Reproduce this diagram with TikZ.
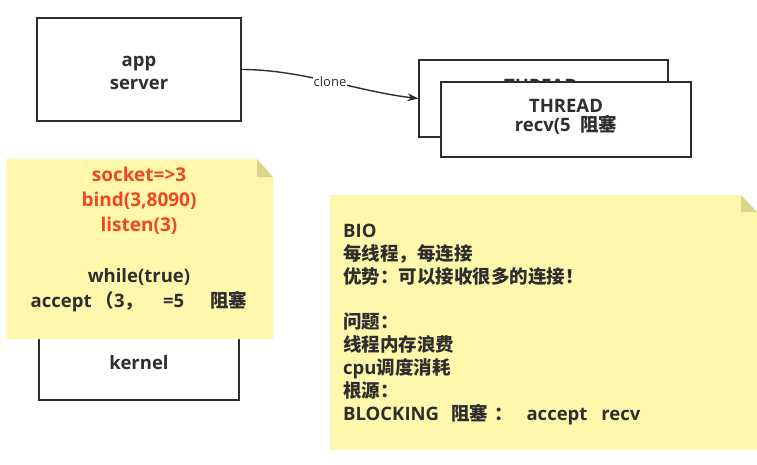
\documentclass[tikz,border=0pt]{standalone}
\usepackage{fontspec}
\setmainfont{Open Sans}
\newfontfamily\cjk{Noto Sans CJK SC}
\usetikzlibrary{arrows.meta}
\definecolor{notefill}{HTML}{FFF8AC}
\definecolor{notefold}{HTML}{DCD48A}
\definecolor{ink}{HTML}{2E2E2E}
\definecolor{redtxt}{HTML}{F2461E}
\newcommand{\zh}[1]{{\cjk\fontsize{18.5}{23}\selectfont #1}}
\tikzset{
  box/.style={draw=ink, line width=1.3pt, fill=white, inner sep=0pt},
  big/.style={font=\bfseries\fontsize{18.5}{23}\selectfont, text=ink, align=center, inner sep=0pt},
  notetxt/.style={font=\bfseries\fontsize{18.5}{23}\selectfont, text=ink, align=left, inner sep=0pt, anchor=west},
  redlines/.style={font=\bfseries\fontsize{19}{25}\selectfont, text=redtxt, align=center, inner sep=0pt},
  small/.style={font=\fontsize{13}{14}\selectfont, text=ink, fill=white, inner sep=1pt},
  conn/.style={draw=ink, line width=1.4pt, -{Stealth[length=11pt,width=8pt]}}
}
\begin{document}
\begin{tikzpicture}[x=1pt,y=-1pt]
\useasboundingbox (0,0) rectangle (757,464);
% app server
\node[box, minimum width=204pt, minimum height=103pt] (app) at (139,69.5) {};
\node[big] (apptxt) at (139,73) {app\\server};
% threads
\node[box, minimum width=249pt, minimum height=77pt] (back) at (543.5,98.5) {};
\node[big, font=\bfseries\fontsize{18.5}{19}\selectfont] (backtxt) at (541,97) {THREAD\\recv(5\ \ \zh{阻塞}};
\node[box, minimum width=250pt, minimum height=75pt] (front) at (566,119.5) {};
\node[big, font=\bfseries\fontsize{18.5}{19}\selectfont] (fronttxt) at (566,117) {THREAD\\recv(5\ \ \zh{阻塞}};
% clone connector
\draw[conn] (app.east) .. controls +(60,0) and +(-60,-7) .. node[small, pos=0.5] (clonelbl) {clone} (back.west);
% kernel
\node[box, minimum width=200pt, minimum height=74pt] (kernel) at (139,363) {};
\node[big] (kerneltxt) at (139,363) {kernel};
% note 1
\fill[notefill] (6,159) -- (257,159) -- (273,177) -- (273,339) -- (6,339) -- cycle;
\fill[notefold] (257,159) -- (257,177) -- (273,177) -- cycle;
\node[redlines] (n1red) at (139,201) {socket=>3\\bind(3,8090)\\listen(3)};
\node[big, font=\bfseries\fontsize{18.5}{25}\selectfont] (n1blk) at (139,290) {while(true)\\accept\hspace{4pt}\zh{（}3\zh{，}\hspace{20pt}=5\hspace{26pt}\zh{阻塞}};
% note 2
\fill[notefill] (330,195) -- (741,195) -- (757,212) -- (757,450) -- (330,450) -- cycle;
\fill[notefold] (741,195) -- (741,212) -- (757,212) -- cycle;
\node[notetxt] (n2a) at (343,255) {BIO\\\zh{每线程，每连接}\\\zh{优势：可以接收很多的连接！}};
\node[notetxt] (n2b) at (343,368.5) {\zh{问题：}\\\zh{线程内存浪费}\\cpu\zh{调度消耗}\\\zh{根源：}\\BLOCKING\hspace{12pt}\zh{阻塞}\hspace{6pt}\zh{：}\hspace{14pt}accept\hspace{14pt}recv};
\end{tikzpicture}
\end{document}
